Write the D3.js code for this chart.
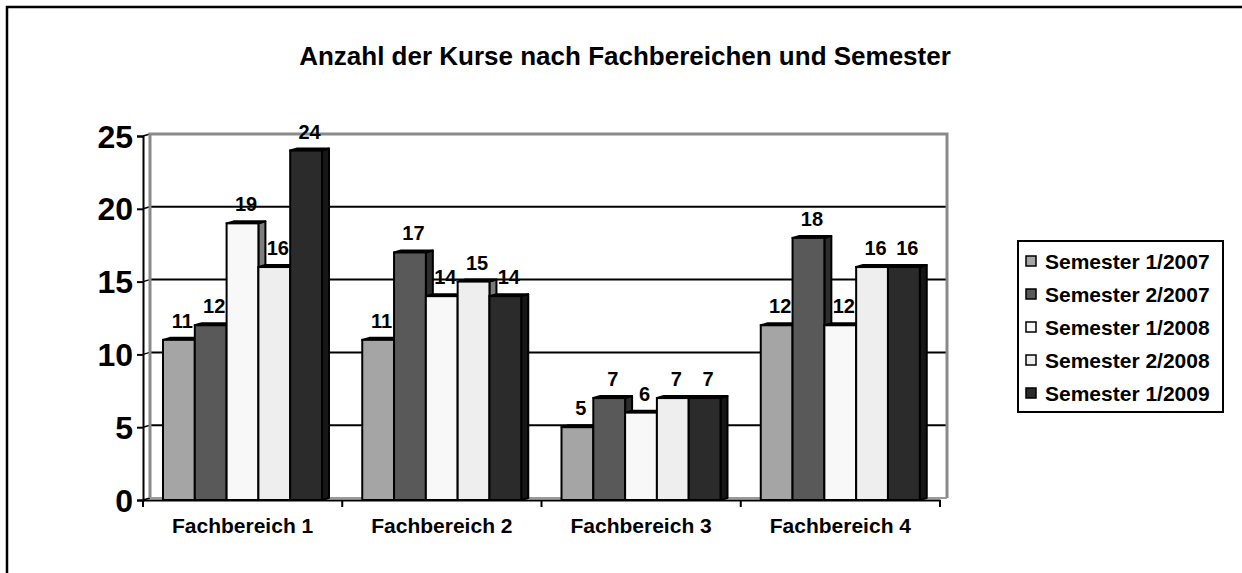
<!DOCTYPE html>
<html>
<head>
	<meta charset="utf-8">
	<title> Kurse </title>
	<script src="https://d3js.org/d3.v7.min.js"></script>
	<style>
		body { margin: 0; background: #fff; }
		svg text { font-family: "Liberation Sans", Arial, sans-serif; font-weight: bold; fill: #000; }
	</style>
</head>
<body>
	<svg width="1242" height="573"></svg>
	<script type="text/javascript">
		let categories = ["Fachbereich 1", "Fachbereich 2", "Fachbereich 3", "Fachbereich 4"];
		let series = ["Semester 1/2007", "Semester 2/2007", "Semester 1/2008", "Semester 2/2008", "Semester 1/2009"];
		let sem1_2007 = [11, 11, 5, 12];
		let sem2_2007 = [12, 17, 7, 18];
		let sem1_2008 = [19, 14, 6, 12];
		let sem2_2008 = [16, 15, 7, 16];
		let sem1_2009 = [24, 14, 7, 16];
		let yTicks = [0, 5, 10, 15, 20, 25];
		let colors = ["#a5a5a5", "#595959", "#f8f8f8", "#eeeeee", "#2b2b2b"];
		let values = [sem1_2007, sem2_2007, sem1_2008, sem2_2008, sem1_2009];

		let svg = d3.select("svg");
		const dx = 7, dy = 2; // fake 3d depth

		// outer frame (runs off the page right and bottom)
		svg.append("rect")
			.attr("x", 7).attr("y", 7).attr("width", 1400).attr("height", 700)
			.attr("fill", "none").attr("stroke", "black").attr("stroke-width", 2.5);

		svg.append("text")
			.attr("x", 625).attr("y", 65)
			.attr("text-anchor", "middle")
			.style("font-size", "26px")
			.text("Anzahl der Kurse nach Fachbereichen und Semester");

		let x0 = d3.scaleBand().domain(categories).range([143, 940]);
		let x1 = d3.scaleBand().domain(series).range([20, 179]);
		let y = d3.scaleLinear().domain([0, 25]).range([500, 136]);
		let left = x0.range()[0], right = x0.range()[1];

		// back wall
		let wall = svg.append("g");
		wall.selectAll(".grid").data(yTicks.slice(1, -1)).join("line")
			.attr("x1", left + dx).attr("x2", right + dx)
			.attr("y1", d => y(d) - dy).attr("y2", d => y(d) - dy)
			.attr("stroke", "black").attr("stroke-width", 2);
		wall.selectAll(".conn").data(yTicks).join("line")
			.attr("x1", left).attr("x2", left + dx)
			.attr("y1", d => y(d)).attr("y2", d => y(d) - dy)
			.attr("stroke", "black").attr("stroke-width", 1.5);
		wall.append("polyline")
			.attr("points", [[left + dx, y(0) - dy], [left + dx, y(25) - dy], [right + dx, y(25) - dy], [right + dx, y(0) - dy]].join(" "))
			.attr("fill", "none").attr("stroke", "#8a8a8a").attr("stroke-width", 3);
		wall.append("line")
			.attr("x1", left + dx).attr("x2", right + dx)
			.attr("y1", y(0) - dy).attr("y2", y(0) - dy)
			.attr("stroke", "#9a9a9a").attr("stroke-width", 2);

		// axes
		let yAxis = d3.axisLeft(y).tickValues(yTicks).tickSize(6).tickFormat("");
		let ga = svg.append("g").attr("transform", "translate(" + left + ",0)").call(yAxis);
		ga.select(".domain").attr("stroke-width", 2);
		ga.selectAll(".tick line").attr("stroke-width", 2);
		svg.selectAll(".ylab").data(yTicks).join("text")
			.attr("x", 133).attr("y", d => y(d)).attr("dy", "0.36em")
			.attr("text-anchor", "end")
			.style("font-size", "32px")
			.text(d => d);

		let xAxis = d3.axisBottom(x0).tickSize(0).tickFormat("");
		let gx = svg.append("g").attr("transform", "translate(0," + y(0) + ")").call(xAxis);
		gx.select(".domain").attr("stroke-width", 2);
		gx.selectAll(".tick").remove();
		let bounds = categories.map(c => x0(c)).concat([right]);
		svg.selectAll(".xtick").data(bounds).join("line")
			.attr("x1", d => d).attr("x2", d => d)
			.attr("y1", y(0)).attr("y2", y(0) + 7)
			.attr("stroke", "black").attr("stroke-width", 2);
		svg.selectAll(".xlab").data(categories).join("text")
			.attr("x", d => x0(d) + x0.bandwidth() / 2).attr("y", 533)
			.attr("text-anchor", "middle")
			.style("font-size", "21px")
			.text(d => d);

		// bars
		let bw = x1.bandwidth();
		let bars = svg.append("g");
		let labels = [];
		categories.forEach((c, ci) => {
			series.forEach((s, si) => {
				let v = values[si][ci];
				let x = x0(c) + x1(s), top = y(v), base = y(0);
				let col = colors[si];
				bars.append("polygon")
					.attr("points", [[x + bw, top], [x + bw + dx, top - dy], [x + bw + dx, base - dy], [x + bw, base]].join(" "))
					.attr("fill", d3.rgb(col).darker(1.9)).attr("stroke", "black").attr("stroke-width", 2).attr("stroke-linejoin", "round");
				bars.append("polygon")
					.attr("points", [[x, top], [x + dx, top - dy], [x + bw + dx, top - dy], [x + bw, top]].join(" "))
					.attr("fill", col).attr("stroke", "black").attr("stroke-width", 2).attr("stroke-linejoin", "round");
				bars.append("rect")
					.attr("x", x).attr("y", top).attr("width", bw).attr("height", base - top)
					.attr("fill", col).attr("stroke", "black").attr("stroke-width", 2);
				labels.push({ x: x + bw / 2 + dx / 2, y: top - dy - 10, v: v });
			});
		});
		svg.selectAll(".vlab").data(labels).join("text")
			.attr("x", d => d.x).attr("y", d => d.y)
			.attr("text-anchor", "middle")
			.style("font-size", "20px")
			.text(d => d.v);

		// legend
		let lg = svg.append("g");
		lg.append("rect")
			.attr("x", 1018).attr("y", 241).attr("width", 205).attr("height", 171)
			.attr("fill", "white").attr("stroke", "black").attr("stroke-width", 2);
		let rows = lg.selectAll(".row").data(series).join("g")
			.attr("transform", (d, i) => "translate(1026," + (261 + i * 33) + ")");
		rows.append("rect")
			.attr("x", 0).attr("y", -5).attr("width", 10).attr("height", 10)
			.attr("fill", (d, i) => colors[i]).attr("stroke", "black").attr("stroke-width", 1.5);
		rows.append("text")
			.attr("x", 19).attr("y", 7.5)
			.style("font-size", "21px")
			.text(d => d);
	</script>
</body>
</html>
